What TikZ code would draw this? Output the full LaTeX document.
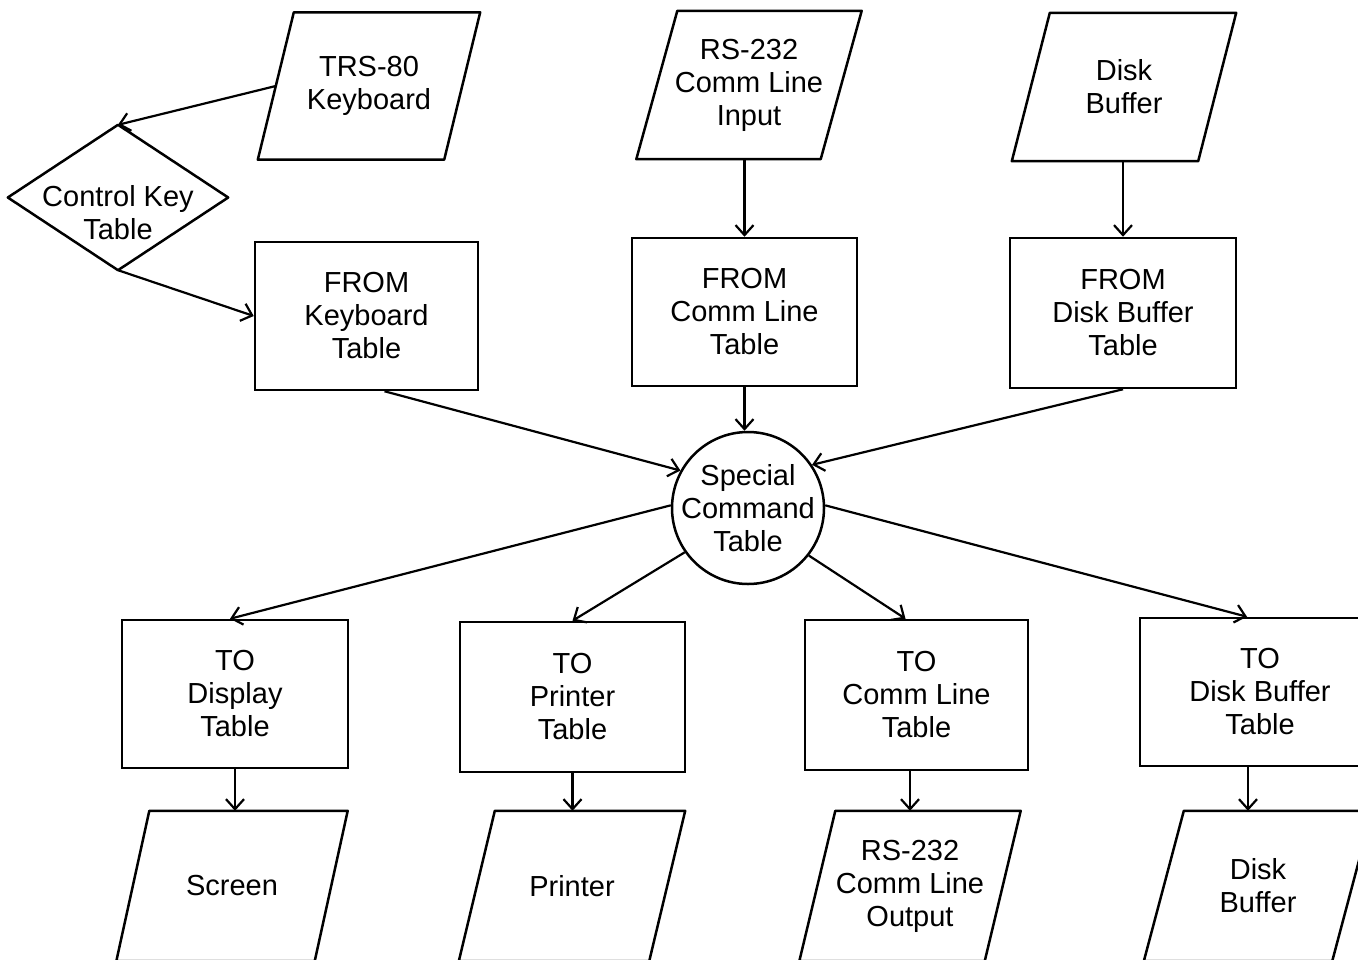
\documentclass[tikz,border=0pt]{standalone}
\usepackage{fontspec}
\setmainfont{Liberation Sans}
\usetikzlibrary{arrows.meta}
\begin{document}
\begin{tikzpicture}[x=1pt,y=-1pt,
  lbl/.style={font=\fontsize{29}{33}\selectfont, align=center, inner sep=0pt},
  box/.style={lbl, draw, line width=2.5pt, minimum width=#1, minimum height=148pt},
  io/.style={lbl, minimum width=#1, minimum height=147pt},
  io/.default=186pt,
  outline/.style={draw, line width=2.5pt, line join=round},
  arr/.style={line width=2.2pt, -{Straight Barb[length=10pt,width=18pt,line width=2.2pt]}},
]
\useasboundingbox (0,0) rectangle (1358,959);
\fill[white] (0,0) rectangle (1358,959);

% input devices
\node[io] (trs) at (369,86) {TRS-80\\Keyboard};
\node[io=184pt, minimum height=148pt] (rsin) at (749,85) {RS-232\\Comm Line\\Input};
\node[io, minimum height=148pt] (dbin) at (1124,87) {Disk\\Buffer};

% control key decision
\node[lbl, minimum width=220pt, minimum height=145pt] (ck) at (118,197.5)
  {\raisebox{-25pt}[0pt][0pt]{\begin{tabular}{@{}c@{}}Control Key\\Table\end{tabular}}};

% FROM tables
\node[box=223pt] (fromkb) at (366.5,316) {FROM\\Keyboard\\Table};
\node[box=225pt] (fromcl) at (744.5,312) {FROM\\Comm Line\\Table};
\node[box=226pt, minimum height=150pt] (fromdb) at (1123,313) {FROM\\Disk Buffer\\Table};

% special command table
\node[circle, draw, line width=2.5pt, minimum size=152pt, inner sep=0pt] (sct) at (748,508) {};
\node[lbl] (scttext) at (sct.center) {Special\\Command\\Table};

% TO tables
\node[box=226pt] (todisp) at (235,694) {TO\\Display\\Table};
\node[box=225pt, minimum height=150pt] (toprn) at (572.5,697) {TO\\Printer\\Table};
\node[box=223pt, minimum height=150pt] (tocl) at (916.5,695) {TO\\Comm Line\\Table};
\node[box=240pt] (todb) at (1260,692) {TO\\Disk Buffer\\Table};

% output devices
\node[io=198pt, minimum height=150pt] (scr) at (232,886) {Screen};
\node[io=190pt, minimum height=150pt] (prn) at (572,886) {Printer};
\node[io=185pt, minimum height=150pt] (rsout) at (910,886) {RS-232\\Comm Line\\Output};
\node[io=188pt, minimum height=150pt] (dbout) at (1258,886) {Disk\\Buffer};

% parallelogram outlines
\foreach \n/\s in {trs/18, rsin/20.5, dbin/19, scr/16.5, prn/18, rsout/18, dbout/20}
  \draw[outline] ([xshift=\s pt]\n.north west) -- ([xshift=\s pt]\n.north east)
     -- ([xshift=-\s pt]\n.south east) -- ([xshift=-\s pt]\n.south west) -- cycle;

% diamond outline
\draw[outline] (ck.north) -- (ck.east) -- (ck.south) -- (ck.west) -- cycle;

% connectors
\draw[arr] (trs.west) -- (ck.north);
\draw[arr] (ck.south) -- (fromkb.west);
\draw[arr] (fromcl.north |- rsin.south) -- (fromcl.north);
\draw[arr] (fromdb.north |- dbin.south) -- (fromdb.north);
\draw[arr] ([xshift=18pt]fromkb.south) -- (sct.151);
\draw[arr] (fromcl.south) -- (fromcl.south |- sct.north);
\draw[arr] (fromdb.south) -- (sct.34);
\draw[arr] (sct.178) -- ([xshift=-5pt]todisp.north);
\draw[arr] (sct.215) -- (toprn.north);
\draw[arr] (sct.322) -- ([xshift=-11pt]tocl.north);
\draw[arr] (sct.2) -- ([xshift=-13pt]todb.north);
\draw[arr] (todisp.south) -- (todisp.south |- scr.north);
\draw[arr] (toprn.south) -- (toprn.south |- prn.north);
\draw[arr] (rsout.north |- tocl.south) -- (rsout.north);
\path ([xshift=-10pt]dbout.north) coordinate (dbtop);
\draw[arr] (dbtop |- todb.south) -- (dbtop);
\end{tikzpicture}
\end{document}
